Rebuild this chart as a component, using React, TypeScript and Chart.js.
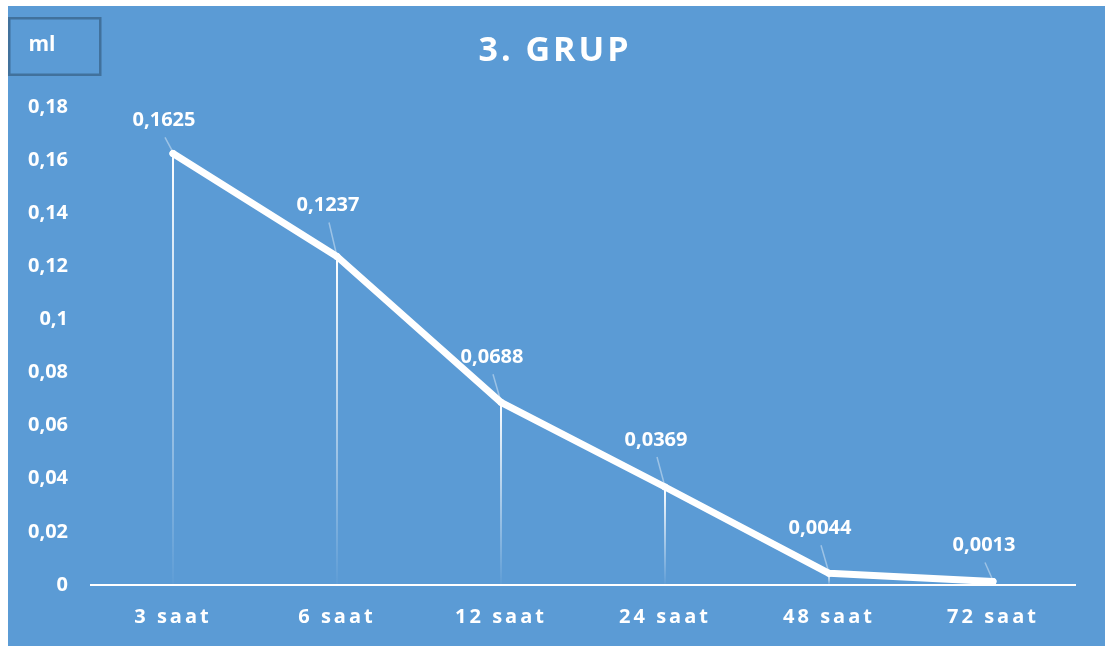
import React, { useEffect, useRef } from 'react';
import { Chart, registerables } from 'chart.js';

Chart.register(...registerables);

const categories = ['3 saat', '6 saat', '12 saat', '24 saat', '48 saat', '72 saat'];
const values = [0.1625, 0.1237, 0.0688, 0.0369, 0.0044, 0.0013];
const yTickLabels = ['0', '0,02', '0,04', '0,06', '0,08', '0,1', '0,12', '0,14', '0,16', '0,18'];
const titleText = '3. GRUP';
const yAxisTitle = 'ml';

const formatValue = (v: number) => String(v).replace('.', ',');

const BG = '#5B9BD5';
const FONT = '"Open Sans", sans-serif';

const decorPlugin = {
  id: 'decor',
  beforeDraw(chart: any) {
    const ctx = chart.ctx;
    ctx.save();
    ctx.fillStyle = BG;
    ctx.fillRect(0, 0, chart.width, chart.height);
    ctx.restore();
    ctx.letterSpacing = '3px';
  },
  beforeDatasetsDraw(chart: any) {
    const ctx = chart.ctx;
    const meta = chart.getDatasetMeta(0);
    const y0 = chart.scales.y.getPixelForValue(0);
    ctx.save();
    meta.data.forEach((pt: any) => {
      if (y0 - pt.y < 1) return;
      const g = ctx.createLinearGradient(0, pt.y, 0, y0);
      g.addColorStop(0, 'rgba(255,255,255,1)');
      g.addColorStop(1, 'rgba(255,255,255,0.02)');
      ctx.strokeStyle = g;
      ctx.lineWidth = 2;
      ctx.beginPath();
      ctx.moveTo(pt.x, pt.y);
      ctx.lineTo(pt.x, y0);
      ctx.stroke();
    });
    ctx.restore();
  },
  afterDatasetsDraw(chart: any, _args: any, opts: any) {
    const ctx = chart.ctx;
    ctx.letterSpacing = '0px';
    const meta = chart.getDatasetMeta(0);
    const data = chart.data.datasets[0].data as number[];
    ctx.save();
    meta.data.forEach((pt: any, i: number) => {
      const lx = pt.x + opts.dx;
      const ly = pt.y + opts.dy[i];
      ctx.strokeStyle = 'rgba(255,255,255,0.4)';
      ctx.lineWidth = 1.5;
      ctx.beginPath();
      ctx.moveTo(lx + 1, ly + 17);
      ctx.lineTo(pt.x - 0.5, pt.y - 2);
      ctx.stroke();
      ctx.fillStyle = '#ffffff';
      ctx.font = `bold 20px ${FONT}`;
      ctx.textAlign = 'center';
      ctx.textBaseline = 'middle';
      ctx.fillText(formatValue(data[i]), lx, ly);
    });
    ctx.restore();
  },
  afterDraw(chart: any) {
    const ctx = chart.ctx;
    ctx.save();
    ctx.letterSpacing = '0px';
    ctx.strokeStyle = '#41719C';
    ctx.lineWidth = 2.5;
    ctx.strokeRect(1.25, 12.25, 91, 56.5);
    ctx.fillStyle = '#ffffff';
    ctx.font = `bold 21px ${FONT}`;
    ctx.textAlign = 'center';
    ctx.textBaseline = 'middle';
    ctx.fillText(yAxisTitle, 34, 39);
    ctx.restore();
  },
};

export default function App() {
  const ref = useRef<HTMLCanvasElement | null>(null);

  useEffect(() => {
    if (!ref.current) return;
    const chart = new Chart(ref.current, {
      type: 'line',
      data: {
        labels: categories,
        datasets: [
          {
            data: values,
            yAxisID: 'y',
            borderColor: '#ffffff',
            borderWidth: 7,
            pointRadius: 3.5,
            pointBackgroundColor: '#ffffff',
            pointBorderWidth: 0,
            borderCapStyle: 'round',
            borderJoinStyle: 'round',
            tension: 0,
          },
        ],
      },
      options: {
        responsive: false,
        animation: false,
        layout: { padding: { left: 0, right: 3, top: 0, bottom: 0 } },
        plugins: {
          legend: { display: false },
          tooltip: { enabled: false },
          title: {
            display: true,
            text: titleText,
            color: '#ffffff',
            font: { family: FONT, size: 34, weight: 'bold', lineHeight: 1.2 },
            padding: { top: 25, bottom: 35.2 },
          },
          decor: { dx: -9, dy: [-33, -51, -45, -47, -45, -36] },
        } as any,
        scales: {
          x: {
            offset: true,
            grid: { display: false, drawTicks: false },
            border: { display: true, color: '#ffffff', width: 2 },
            ticks: {
              color: '#ffffff',
              font: { family: FONT, size: 20, weight: 'bold' },
              padding: 20,
              maxRotation: 0,
              autoSkip: false,
            },
            afterFit(s: any) {
              s.height = 61;
            },
          },
          y: {
            position: 'left',
            min: 0,
            max: 0.18,
            grid: { display: false, drawTicks: false },
            border: { display: false },
            ticks: {
              stepSize: 0.02,
              color: '#ffffff',
              font: { family: FONT, size: 20, weight: 'bold' },
              padding: 23,
              z: 1,
              callback: (_v: any, i: number) => yTickLabels[i],
            },
            afterFit(s: any) {
              s.width = 83;
            },
          },
          yRight: {
            position: 'right',
            min: 0,
            max: 1,
            grid: { display: false, drawTicks: false },
            border: { display: false },
            ticks: { display: false },
            afterFit(s: any) {
              s.width = 27;
            },
          },
        },
      },
      plugins: [decorPlugin],
    });
    return () => chart.destroy();
  }, []);

  return (
    <div style={{ position: 'absolute', left: 8, top: 6 }}>
      <canvas ref={ref} width={1097} height={640} style={{ display: 'block' }} />
    </div>
  );
}
